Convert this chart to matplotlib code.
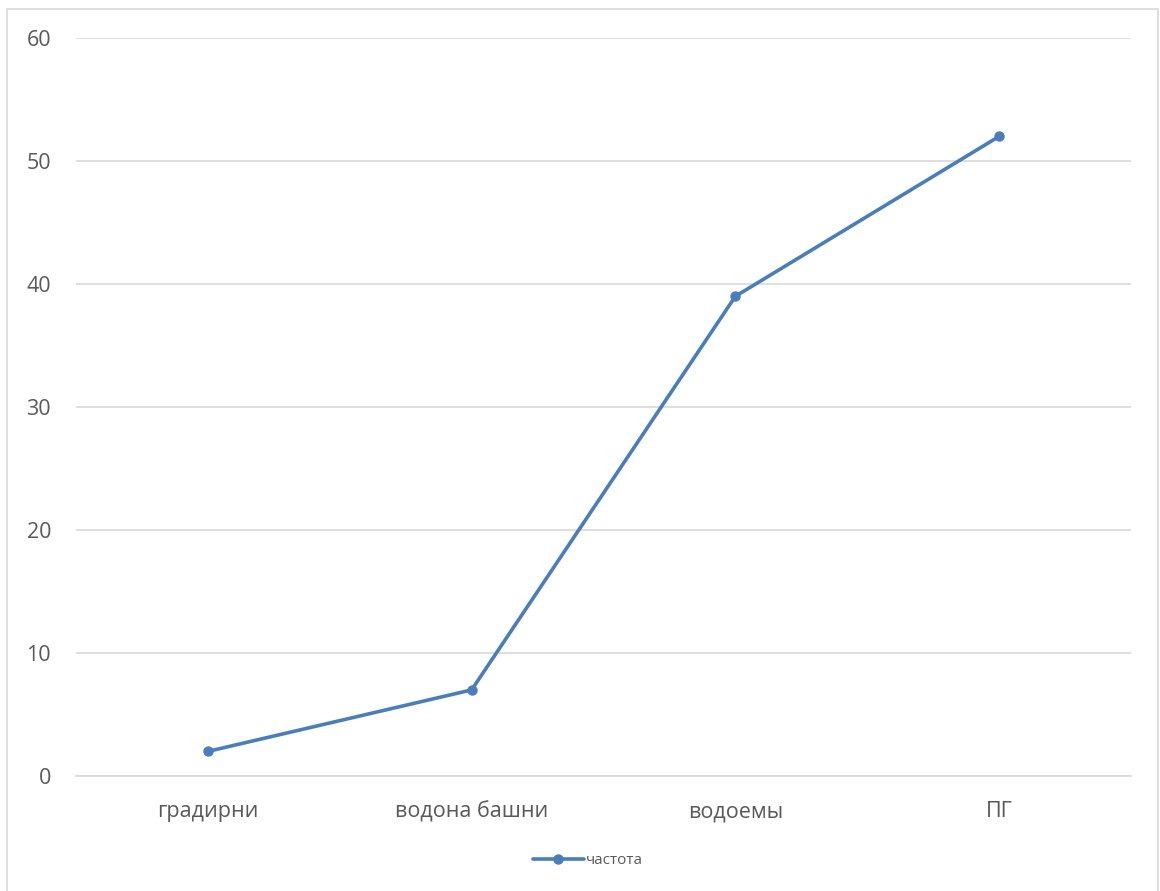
import matplotlib
matplotlib.use('Agg')
import matplotlib.pyplot as plt
from matplotlib.patches import Rectangle

plt.rcParams['font.family'] = ['Open Sans', 'DejaVu Sans']

categories = ["градирни", "водона башни", "водоемы", "ПГ"]
values = [2, 7, 39, 52]
series_name = "частота"
yticks = [0, 10, 20, 30, 40, 50, 60]

W, H = 1160, 891
fig = plt.figure(figsize=(W / 100, H / 100), dpi=100)
ax = fig.add_axes([76 / W, 1 - 776 / H, (1131 - 76) / W, (776 - 38) / H])

# chart border
fig.patches.append(Rectangle((7 / W, -0.05), (1158 - 7) / W, 1 - 9 / H + 0.05,
                             transform=fig.transFigure, fill=False,
                             edgecolor='#d9d9d9', linewidth=1.2))

x = list(range(len(categories)))
ax.plot(x, values, color='#4a7ebb', linewidth=2.6, marker='o', markersize=6.5,
        label=series_name, solid_capstyle='round')

ax.set_xlim(-0.5, len(categories) - 0.5)
ax.set_ylim(0, 60)
ax.set_yticks(yticks)
ax.set_xticks(x)
ax.set_xticklabels(categories)
ax.tick_params(axis='both', length=0, labelsize=15.5, labelcolor='#595959')
ax.tick_params(axis='y', pad=18)
ax.tick_params(axis='x', pad=18)
ax.grid(True, axis='y', color='#d9d9d9', linewidth=1.2)
ax.set_axisbelow(True)
for s in ['top', 'right', 'left']:
    ax.spines[s].set_visible(False)
ax.spines['bottom'].set_color('#d9d9d9')
ax.spines['bottom'].set_linewidth(1.2)

fig.legend(loc='center', bbox_to_anchor=(588 / W, 1 - 861 / H), frameon=False,
           fontsize=11, labelcolor='#595959', handlelength=3.3, handletextpad=0.15)

plt.savefig('out.png', dpi=100)
